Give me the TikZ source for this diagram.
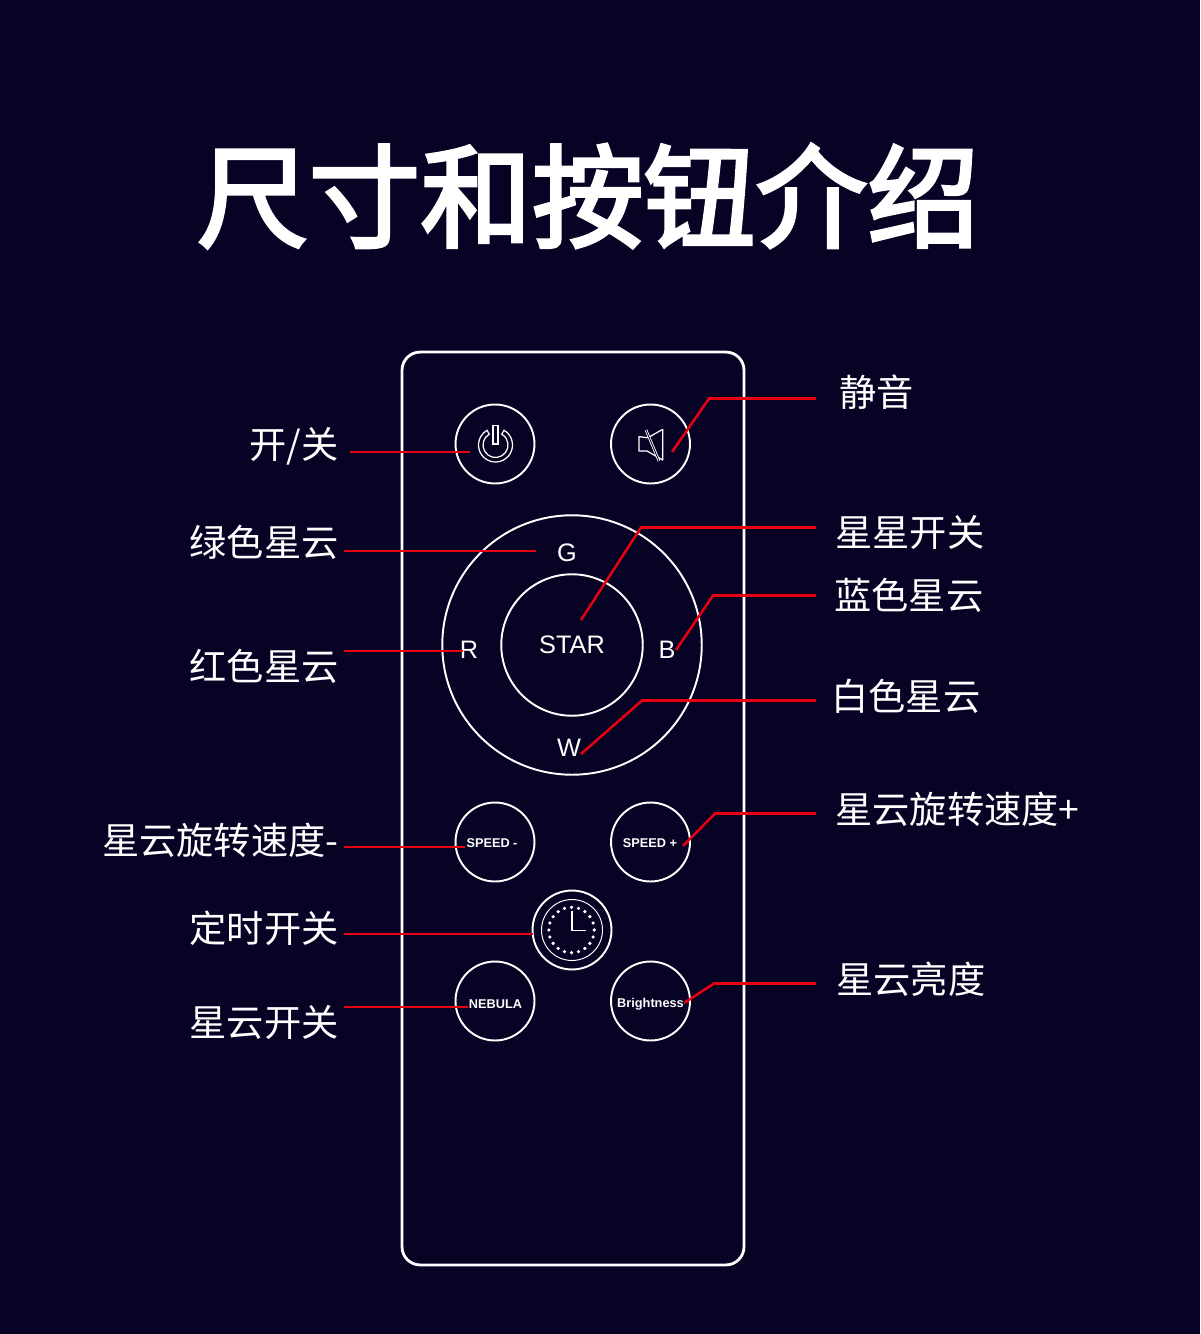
\documentclass[tikz,border=0pt]{standalone}
\usepackage{fontspec}
\setmainfont{Liberation Sans}
\newfontfamily\cjk{Noto Sans CJK SC}
\newfontfamily\cjktitle[FakeBold=3]{Noto Sans CJK SC}
\usepackage{xcolor}
\definecolor{bgnavy}{HTML}{060324}
\definecolor{wirered}{HTML}{E60012}

\begin{document}
\begin{tikzpicture}[
  x=0.02cm, y=-0.02cm,
  bodybox/.style={rectangle, draw=white, line width=1.6pt, rounded corners=0.36cm, minimum width=6.84cm, minimum height=18.26cm},
  btn/.style={circle, draw=white, line width=1.1pt, inner sep=0pt, minimum size=#1},
  btn/.default=1.58cm,
  keytext/.style={text=white, inner sep=0pt, font=\fontsize{14.4}{16}\selectfont},
  smalltext/.style={text=white, inner sep=0pt, font=\bfseries\fontsize{7.25}{9}\selectfont},
  tag/.style={text=white, inner sep=0pt, font=\cjk\fontsize{21.2}{25}\selectfont},
  wire/.style={draw=wirered, line width=1.45pt},
  iconline/.style={draw=white, line width=0.7pt}
]
  \fill[bgnavy] (0,0) rectangle (1200,1334);
  \useasboundingbox (0,0) rectangle (1200,1334);

  \node[text=white, inner sep=0pt, font=\cjktitle\fontsize{63.6}{70}\selectfont] (title) at (588,196) {尺寸和按钮介绍};

  % remote body and buttons
  \node[bodybox] (body) at (573,808.5) {};
  \node[btn] (power) at (495,444) {};
  \node[btn] (mute) at (650.5,444) {};
  \node[btn=5.19cm] (ring) at (572,645) {};
  \node[btn=2.83cm] (star) at (572,645) {};
  \node[keytext] (startext) at (572,645) {STAR};
  \node[keytext] (g) at (567,552.5) {G};
  \node[keytext] (r) at (469,650) {R};
  \node[keytext] (b) at (667,650) {B};
  \node[keytext] (w) at (569,748) {W};
  \node[btn] (speedminus) at (495,842) {};
  \node[btn] (speedplus) at (650.5,842) {};
  \node[smalltext] (sminustext) at (492,843.5) {SPEED -};
  \node[smalltext] (splustext) at (650,843.5) {SPEED +};
  \node[btn] (clock) at (572,930) {};
  \node[btn=1.22cm, line width=0.55pt] (clockface) at (572,930) {};
  \node[btn] (nebula) at (495,1001) {};
  \node[btn] (bright) at (650.5,1001) {};
  \node[smalltext] (nebulatext) at (495.5,1004.5) {NEBULA};
  \node[smalltext] (brighttext) at (650.5,1004.5) {Brightness};

  % power icon
  \draw[iconline] (495.5,445) ++(-60:17) arc[start angle=-60, end angle=240, radius=17] -- ++(60:4.5) arc[start angle=240, end angle=-60, radius=12.5] -- cycle;
  \draw[iconline] (493,425.5) rectangle (498,444);
  % mute icon
  \draw[iconline, line join=round] (639,436.7) -- (639,451) -- (647,451) -- (662.7,460) -- (662.7,429.3) -- (648,437.7) -- cycle;
  \draw[draw=white, line width=0.5pt, double=bgnavy, double distance=0.5pt] (646,430) -- (659,461);
  % clock icon
  \foreach \ang in {0,18,...,342}
    \fill[white] (571.5,930) ++(\ang:22.7) circle[radius=1.8];
  \draw[draw=white, line width=0.9pt] (572,911) -- (572,930.5) -- (586,930.5);

  % left labels
  \node[tag, anchor=east] (lpower) at (339,446) {开/关};
  \node[tag, anchor=east] (lgreen) at (339,542) {绿色星云};
  \node[tag, anchor=east] (lred) at (339,666) {红色星云};
  \node[tag, anchor=east] (lminus) at (339,840) {星云旋转速度-};
  \node[tag, anchor=east] (ltimer) at (339,928) {定时开关};
  \node[tag, anchor=east] (lnebula) at (339,1022) {星云开关};
  % right labels
  \node[tag, anchor=west] (rmute) at (839,392) {静音};
  \node[tag, anchor=west] (rstar) at (835,532) {星星开关};
  \node[tag, anchor=west] (rblue) at (834,595) {蓝色星云};
  \node[tag, anchor=west] (rwhite) at (831,696) {白色星云};
  \node[tag, anchor=west] (rplus) at (835,809) {星云旋转速度+};
  \node[tag, anchor=west] (rbright) at (836,979) {星云亮度};

  % wire ends
  \coordinate (apower) at (350,452);
  \coordinate (epower) at (470,452);
  \coordinate (agreen) at (344,551);
  \coordinate (egreen) at (536,551);
  \coordinate (ared) at (344,651);
  \coordinate (ered) at (463,651);
  \coordinate (aminus) at (344,847);
  \coordinate (eminus) at (465,847);
  \coordinate (atimer) at (344,934);
  \coordinate (etimer) at (533,934);
  \coordinate (anebula) at (344,1007);
  \coordinate (enebula) at (468,1007);
  \coordinate (amute) at (816,398.5);
  \coordinate (kmute) at (709,398.5);
  \coordinate (emute) at (672,452);
  \coordinate (astar) at (816,527.5);
  \coordinate (kstar) at (641,527.5);
  \coordinate (estar) at (581,620);
  \coordinate (ablue) at (816,595.5);
  \coordinate (kblue) at (713,595.5);
  \coordinate (eblue) at (676,650);
  \coordinate (awhite) at (816,700.5);
  \coordinate (kwhite) at (642,700.5);
  \coordinate (ewhite) at (581,754);
  \coordinate (aplus) at (816,813.5);
  \coordinate (kplus) at (715,813.5);
  \coordinate (eplus) at (683,846);
  \coordinate (abright) at (816,983.5);
  \coordinate (kbright) at (714,983.5);
  \coordinate (ebright) at (684,1003);

  \draw[wire] (apower) -- (epower);
  \draw[wire] (agreen) -- (egreen);
  \draw[wire] (ared) -- (ered);
  \draw[wire] (aminus) -- (eminus);
  \draw[wire] (atimer) -- (etimer);
  \draw[wire] (anebula) -- (enebula);
  \draw[wire] (amute) -- (kmute) -- (emute);
  \draw[wire] (astar) -- (kstar) -- (estar);
  \draw[wire] (ablue) -- (kblue) -- (eblue);
  \draw[wire] (awhite) -- (kwhite) -- (ewhite);
  \draw[wire] (aplus) -- (kplus) -- (eplus);
  \draw[wire] (abright) -- (kbright) -- (ebright);
\end{tikzpicture}
\end{document}
